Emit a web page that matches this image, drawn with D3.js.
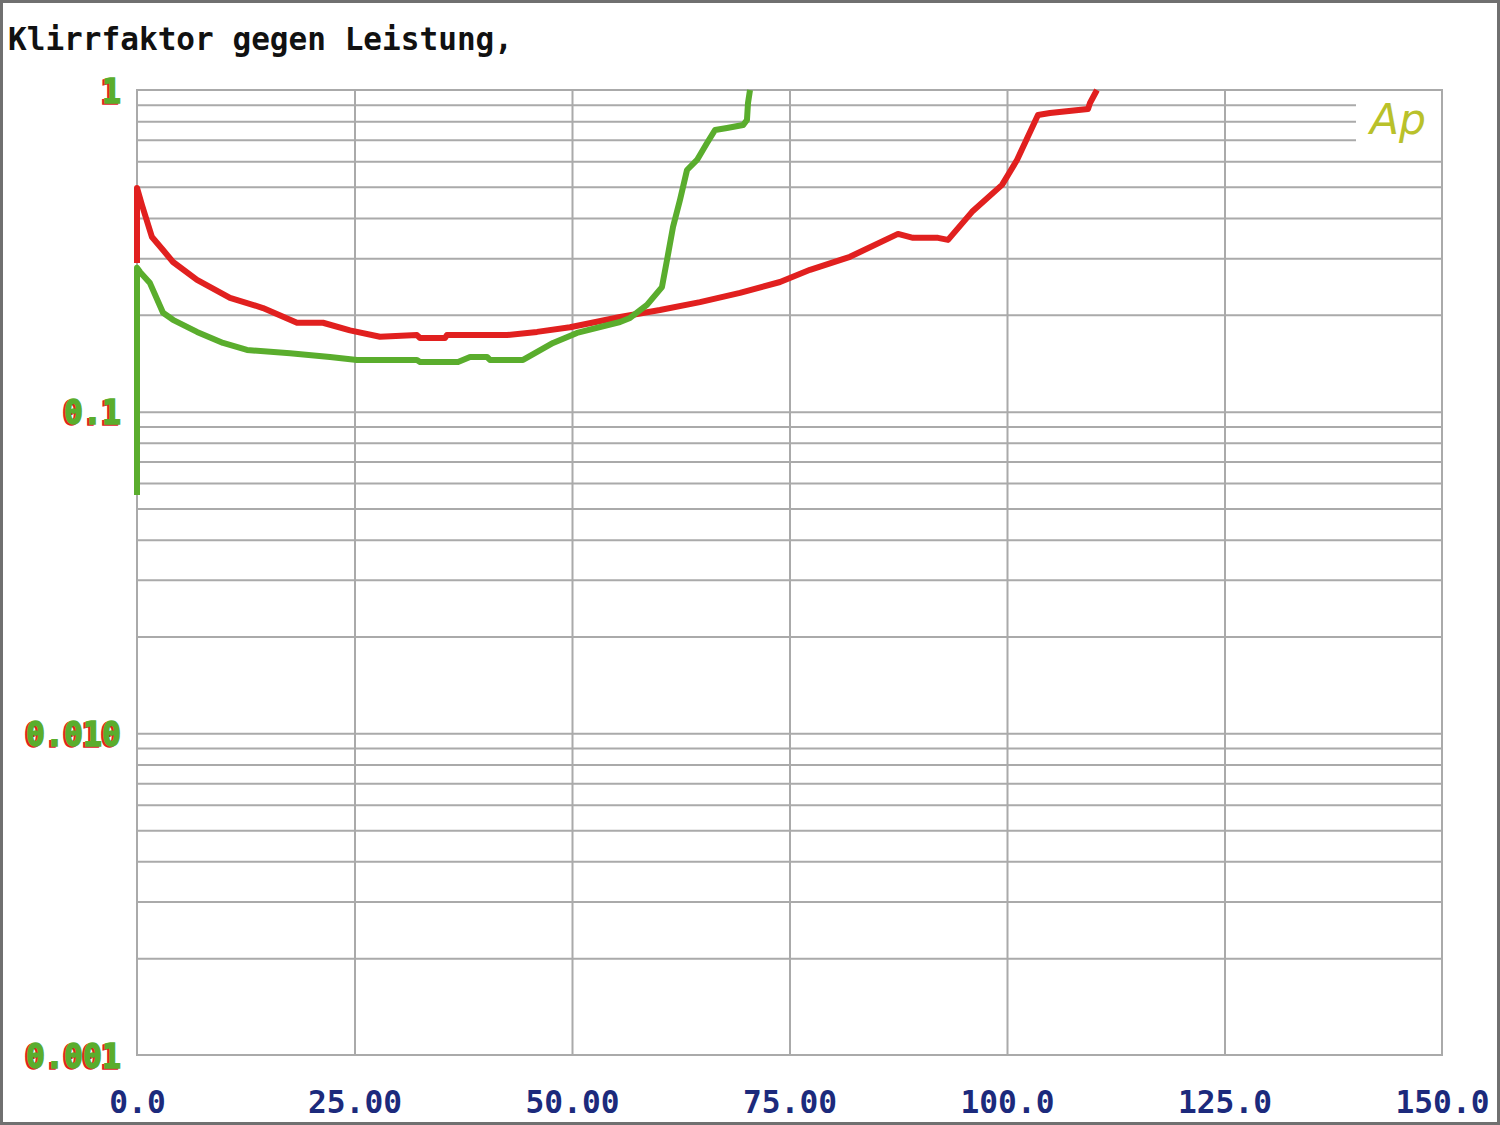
<!DOCTYPE html>
<html><head><meta charset="utf-8">
<script src="https://cdn.jsdelivr.net/npm/d3@7"></script>
<style>body{margin:0;background:#fff}svg{display:block}</style>
</head><body><svg id="c" width="1500" height="1125"></svg>
<script>
const title = "Klirrfaktor gegen Leistung,";
const xTicks = [0, 25, 50, 75, 100, 125, 150];
const xTickLabels = ["0.0", "25.00", "50.00", "75.00", "100.0", "125.0", "150.0"];
const yTicks = [1, 0.1, 0.01, 0.001];
const yTickLabels = ["1", "0.1", "0.010", "0.001"];

// Red channel: power (W) vs THD+N (%)
const redX = [0, 0, 0.57, 1.72, 2.99, 4.14, 6.90, 10.69, 14.48, 18.39, 21.38, 24.48, 27.93, 32.18, 32.53, 35.40, 35.63, 42.53, 45.98, 49.77, 55.52, 60.11, 64.71, 69.31, 73.91, 77.36, 81.95, 87.47, 89.20, 92.07, 93.22, 95.98, 99.43, 101.15, 103.56, 104.94, 109.31, 109.54, 110.34];
const redY = [0.290, 0.496, 0.439, 0.349, 0.318, 0.292, 0.257, 0.226, 0.210, 0.189, 0.189, 0.179, 0.171, 0.173, 0.1695, 0.1695, 0.173, 0.173, 0.177, 0.183, 0.197, 0.207, 0.219, 0.234, 0.253, 0.276, 0.303, 0.357, 0.347, 0.347, 0.342, 0.418, 0.507, 0.606, 0.836, 0.848, 0.873, 0.911, 1.0];

// Green channel
const greenX = [0, 0, 0.34, 1.49, 2.99, 4.14, 6.90, 9.89, 12.64, 17.59, 22.18, 25.29, 32.18, 32.53, 36.90, 38.28, 40.23, 40.57, 44.37, 47.82, 50.57, 55.52, 56.67, 58.62, 60.34, 60.92, 61.61, 62.41, 63.22, 64.37, 65.52, 66.44, 67.82, 69.66, 70.11, 70.23, 70.46];
const greenY = [0.0551, 0.280, 0.272, 0.251, 0.203, 0.193, 0.177, 0.1635, 0.1555, 0.152, 0.148, 0.1448, 0.1448, 0.1427, 0.1427, 0.148, 0.148, 0.1448, 0.1448, 0.1635, 0.1757, 0.190, 0.1956, 0.2147, 0.244, 0.296, 0.375, 0.455, 0.564, 0.606, 0.684, 0.751, 0.762, 0.778, 0.807, 0.911, 1.0];

const W = 1500, H = 1125;
const L = 137, R = 1442, T = 90, B = 1055;
const svg = d3.select("#c");
const x = d3.scaleLinear().domain([0, 150]).range([L, R]);
const y = d3.scaleLog().domain([0.001, 1]).range([B, T]);

const gridColor = "#aaaaaa";
const red = "#e1201f", green = "#5aad2d";
const mono = "'DejaVu Sans Mono', 'Liberation Mono', monospace";

// outer frame
svg.append("rect").attr("x", 1.5).attr("y", 1.5).attr("width", W - 3).attr("height", H - 3)
  .attr("fill", "#fff").attr("stroke", "#707070").attr("stroke-width", 3);

// horizontal grid (log minor lines)
const hGrid = [];
[-3, -2, -1].forEach(k => { for (let m = 2; m <= 9; m++) hGrid.push(+(m * Math.pow(10, k)).toPrecision(3)); });
hGrid.push(0.01, 0.1);
const gy = svg.append("g").attr("transform", `translate(${L},0)`)
  .call(d3.axisLeft(y).tickValues(hGrid).tickSize(-(R - L)).tickFormat(""));
gy.select(".domain").remove();
gy.selectAll(".tick line").attr("stroke", gridColor).attr("stroke-width", 2)
  .attr("x2", d => (d >= 0.65 ? 1356 - L : R - L));

// vertical grid
const gx = svg.append("g").attr("transform", `translate(0,${T})`)
  .call(d3.axisBottom(x).tickValues(xTicks.slice(1, -1)).tickSize(B - T).tickFormat(""));
gx.select(".domain").remove();
gx.selectAll(".tick line").attr("stroke", gridColor).attr("stroke-width", 2);

// plot frame
svg.append("rect").attr("x", L).attr("y", T).attr("width", R - L).attr("height", B - T)
  .attr("fill", "none").attr("stroke", gridColor).attr("stroke-width", 2);

// Ap logo
svg.append("text").attr("x", 1370).attr("y", 134).text("Ap")
  .attr("font-family", "'DejaVu Sans', sans-serif").attr("font-style", "italic")
  .attr("font-weight", 200)
  .attr("font-size", 42).attr("fill", "#b9c12a")
  .attr("textLength", 56).attr("lengthAdjust", "spacingAndGlyphs");

// curves
const line = d3.line().x(d => x(d[0])).y(d => y(d[1]));
const redData = redX.map((v, i) => [v, redY[i]]);
const greenData = greenX.map((v, i) => [v, greenY[i]]);
svg.append("path").datum(redData).attr("d", line).attr("fill", "none")
  .attr("stroke", red).attr("stroke-width", 6).attr("stroke-linejoin", "round");
svg.append("path").datum(greenData).attr("d", line).attr("fill", "none")
  .attr("stroke", green).attr("stroke-width", 6).attr("stroke-linejoin", "round");

// y labels (green with slight red shadow)
const ya = svg.append("g").attr("transform", `translate(${L - 16},0)`)
  .call(d3.axisLeft(y).tickValues(yTicks).tickSize(0).tickFormat((d, i) => yTickLabels[i]));
ya.select(".domain").remove();
ya.selectAll(".tick text").remove();
ya.selectAll(".tick").each(function (d, i) {
  const g = d3.select(this);
  const lab = yTickLabels[i];
  const w = lab.length * 19;
  [[red, -2, 1], [green, 0, 0]].forEach(([c, dx, dy]) => {
    g.append("text").attr("x", dx).attr("y", dy).attr("dy", "0.36em")
      .attr("text-anchor", "end").attr("font-family", mono).attr("font-weight", "bold")
      .attr("font-size", 34).attr("fill", c).attr("stroke", c).attr("stroke-width", 1.6)
      .attr("textLength", w).attr("lengthAdjust", "spacingAndGlyphs").text(lab);
  });
});

// x labels
const xa = svg.append("g").attr("transform", `translate(0,${B})`)
  .call(d3.axisBottom(x).tickValues(xTicks).tickSize(0).tickFormat((d, i) => xTickLabels[i]));
xa.select(".domain").remove();
xa.selectAll(".tick text").attr("y", 58).attr("dy", null)
  .attr("font-family", mono).attr("font-weight", "bold").attr("font-size", 32)
  .attr("fill", "#1c2a7c")
  .attr("textLength", (d, i) => xTickLabels[i].length * 18.8).attr("lengthAdjust", "spacingAndGlyphs");

// title
svg.append("text").attr("x", 8).attr("y", 50).text(title)
  .attr("font-family", mono).attr("font-weight", "bold").attr("font-size", 32).attr("fill", "#111")
  .attr("textLength", 505).attr("lengthAdjust", "spacingAndGlyphs");
</script></body></html>
